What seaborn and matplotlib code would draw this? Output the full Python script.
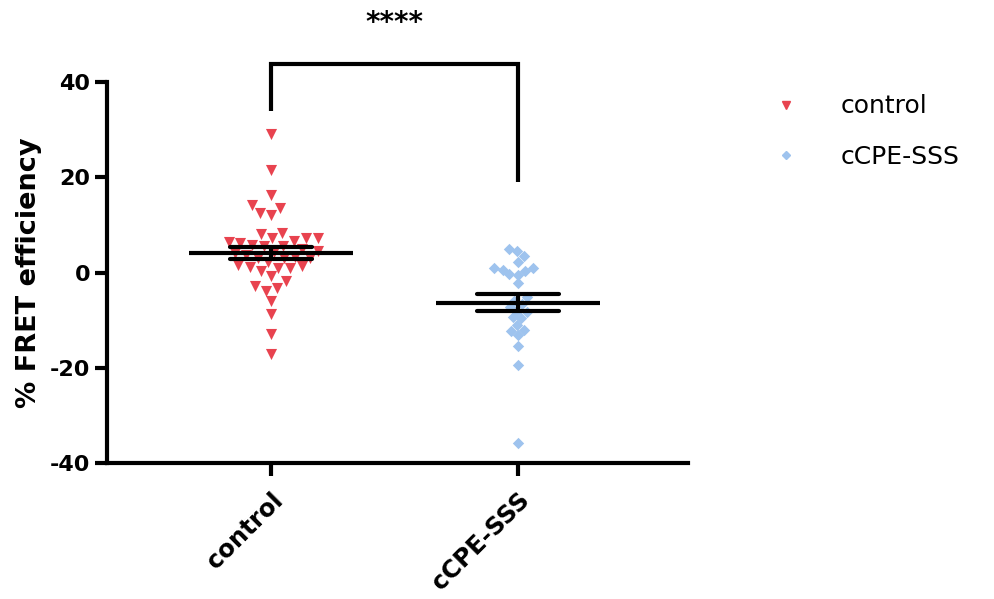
import numpy as np
import pandas as pd
import matplotlib
matplotlib.use("Agg")
import matplotlib.pyplot as plt
from matplotlib.lines import Line2D
import seaborn as sns

categories = ["control", "cCPE-SSS"]
control_values = [29.0, 21.6, 16.2, 14.2, 13.5, 12.5, 12.0, 8.3, 7.2, 7.2, 8.0, 7.3,
                  6.7, 6.4, 5.8, 5.6, 6.2, 5.5, 5.0, 4.3, 4.6, 4.1, 3.7, 3.2, 3.0,
                  3.0, 3.1, 2.2, 1.5, 1.3, 1.0, 1.0, 1.1, 0.3, -0.8, -1.7, -2.9,
                  -3.2, -3.8, -5.9, -8.8, -12.9, -17.1]
ccpe_values = [5.0, 4.5, 3.4, 2.2, 0.9, 0.6, 0.4, 0.9, -0.4, -0.5, -2.2, -5.2,
               -5.9, -6.6, -7.3, -8.3, -8.0, -9.5, -9.4, -11.0, -12.0, -12.2,
               -13.1, -15.5, -19.5, -35.8]
yticks = [-40, -20, 0, 20, 40]
colors = ["#E8434F", "#9EC3EE"]
markers = ["v", "D"]
legend_labels = ["control", "cCPE-SSS"]
sig_label = "****"

df = pd.DataFrame({
    "group": ["control"] * len(control_values) + ["cCPE-SSS"] * len(ccpe_values),
    "value": control_values + ccpe_values,
})

sns.set_style("white")
plt.rcParams["font.family"] = ["DejaVu Sans"]
plt.rcParams["text.color"] = "black"
plt.rcParams["axes.labelcolor"] = "black"
plt.rcParams["xtick.color"] = "black"
plt.rcParams["ytick.color"] = "black"

fig = plt.figure(figsize=(9.95, 5.99), dpi=100)
ax = fig.add_axes([0.1075, 0.227, 0.584, 0.636])

for cat, col, mk, sz in zip(categories, colors, markers, [8.0, 5.8]):
    sub = df[df["group"] == cat]
    sns.swarmplot(data=sub, x="group", y="value", order=categories, color=col,
                  marker=mk, size=sz, linewidth=0, ax=ax, zorder=2)

sns.pointplot(data=df, x="group", y="value", order=categories, errorbar="se",
              capsize=0.33, color="black", linestyle="none", marker="_",
              markersize=118, markeredgewidth=3, err_kws={"linewidth": 3},
              ax=ax, zorder=5)

ax.set_xlim(-0.665, 1.69)
ax.set_ylim(-40, 40)
ax.set_yticks(yticks)
ax.set_yticklabels([str(t) for t in yticks], fontsize=16, fontweight="bold")
ax.set_xticks(range(len(categories)))
ax.set_xticklabels(categories, fontsize=17.5, fontweight="bold", rotation=45,
                   ha="right", rotation_mode="anchor")
ax.set_xlabel("")
ax.set_ylabel("% FRET efficiency", fontsize=19.5, fontweight="bold", labelpad=6)

for side in ["top", "right"]:
    ax.spines[side].set_visible(False)
for side in ["left", "bottom"]:
    ax.spines[side].set_linewidth(3)
    ax.spines[side].set_color("black")
ax.tick_params(axis="both", direction="out", length=9, width=3, color="black",
               left=True, bottom=True)
ax.tick_params(axis="y", pad=3)
ax.tick_params(axis="x", pad=9)

# significance bracket
y_top, y_left, y_right = 43.8, 34.0, 19.0
ax.plot([0, 0, 1, 1], [y_left, y_top, y_top, y_right], color="black", lw=3,
        clip_on=False, solid_capstyle="butt", solid_joinstyle="miter")
ax.text(0.5, 52.5, sig_label, ha="center", va="center", fontsize=20,
        fontweight="bold", color="black", clip_on=False)

handles = [Line2D([], [], linestyle="none", marker=m, color=c,
                  markersize=s) for m, c, s in zip(markers, colors, [6, 4.5])]
fig.legend(handles, legend_labels, loc="upper left",
           bbox_to_anchor=(0.742, 0.88), frameon=False, fontsize=18,
           handletextpad=1.2, labelspacing=1.05)

fig.savefig("out.png", dpi=100)
